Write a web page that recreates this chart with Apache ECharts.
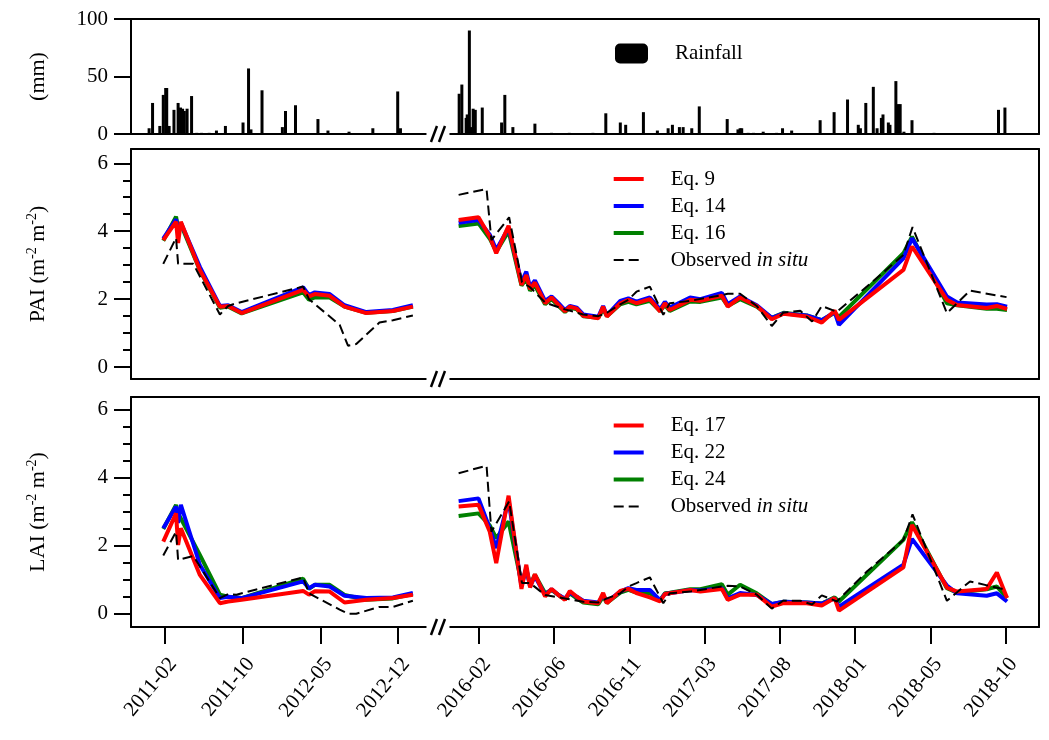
<!DOCTYPE html>
<html><head><meta charset="utf-8">
<script src="https://cdn.jsdelivr.net/npm/echarts@6/dist/echarts.min.js"></script>
<style>html,body{margin:0;padding:0;background:#fff}#c{width:1049px;height:740px}</style>
</head><body><div id="c"></div>
<script>
// ---------------- DATA ----------------
const TICK_LABELS = ['2011-02','2011-10','2012-05','2012-12','2016-02','2016-06','2016-11','2017-03','2017-08','2018-01','2018-05','2018-10'];
const TICK_DATES  = ['2011-02-20','2011-10-03','2012-05-15','2012-12-26','2016-02-01','2016-06-20','2016-11-07','2017-03-27','2017-08-14','2018-01-01','2018-05-21','2018-10-08'];

const RAIN_DATES = ['2011-01-05','2011-01-15','2011-02-05','2011-02-15','2011-02-22','2011-02-25','2011-03-04','2011-03-18','2011-03-30','2011-04-06','2011-04-12','2011-04-17','2011-04-25','2011-05-08','2011-05-23','2011-06-06','2011-06-28','2011-07-19','2011-08-14','2011-10-04','2011-10-20','2011-10-27','2011-11-28','2012-01-26','2012-02-04','2012-03-04','2012-05-08','2012-06-06','2012-08-06','2012-10-14','2012-12-25','2013-01-02',
 '2015-12-26','2015-12-31','2016-01-08','2016-01-10','2016-01-14','2016-01-18','2016-01-21','2016-01-25','2016-02-07','2016-03-14','2016-03-20','2016-04-04','2016-05-15','2016-06-15','2016-07-18','2016-08-31','2016-09-24','2016-10-21','2016-10-31','2016-12-03','2016-12-29','2017-01-18','2017-01-26','2017-02-08','2017-02-15','2017-03-03','2017-03-17','2017-05-08','2017-05-28','2017-06-01','2017-06-04','2017-06-16','2017-06-26','2017-07-14','2017-08-08','2017-08-19','2017-09-05','2017-10-28','2017-11-23','2017-12-18','2018-01-07','2018-01-11','2018-01-21','2018-02-04','2018-02-11','2018-02-19','2018-02-22','2018-03-04','2018-03-07','2018-03-18','2018-03-22','2018-03-26','2018-04-02','2018-04-17','2018-05-28','2018-09-25','2018-10-07'];
const RAIN_MM = [5,27,7,34,40,40,7,21,27,23,22,20,22,33,1,1,1,3,7,10,57,4,38,6,20,25,13,3,2,5,37,5,
 35,43,14,17,90,6,22,21,23,10,34,6,9,1,1,1,18,10,8,19,3,5,8,6,6,5,24,13,4,5,5,1,1,2,1,5,3,12,19,30,8,5,27,41,5,14,17,10,8,46,26,26,2,12,1,21,23];

// model estimate dates (period 1 and period 2)
const MODEL_DATES_1 = ['2011-02-15','2011-03-24','2011-03-30','2011-04-07','2011-06-01','2011-07-29','2011-08-22','2011-09-30','2012-03-26','2012-04-12','2012-04-29','2012-06-11','2012-07-24','2012-09-25','2012-12-11','2013-02-07'];
const MODEL_DATES_2 = ['2015-12-25','2016-01-31','2016-02-21','2016-03-04','2016-03-27','2016-04-20','2016-04-29','2016-05-06','2016-05-15','2016-06-03','2016-06-15','2016-06-28','2016-07-10','2016-07-19','2016-08-01','2016-08-13','2016-09-10','2016-09-19','2016-09-26','2016-10-21','2016-11-05','2016-11-20','2016-12-15','2017-01-03','2017-01-12','2017-01-21','2017-02-28','2017-03-19','2017-04-28','2017-05-09','2017-06-01','2017-07-02','2017-07-30','2017-08-21','2017-10-03','2017-10-31','2017-11-24','2017-12-02','2018-04-01','2018-04-17','2018-06-21','2018-07-10','2018-09-03','2018-09-22','2018-10-11'];
const OBS_DATES_1 = ['2011-02-15','2011-03-24','2011-03-30','2011-05-13','2011-07-29','2011-08-22','2011-09-15','2012-03-26','2012-04-12','2012-07-10','2012-08-03','2012-08-27','2012-11-02','2012-12-11','2013-02-07'];
const OBS_DATES_2 = ['2015-12-25','2016-02-15','2016-02-24','2016-03-28','2016-04-21','2016-05-06','2016-06-03','2016-07-10','2016-08-13','2016-09-10','2016-09-26','2016-10-21','2016-11-05','2016-11-20','2016-12-15','2017-01-09','2017-01-21','2017-02-28','2017-04-28','2017-05-09','2017-06-01','2017-07-02','2017-07-30','2017-08-20','2017-09-21','2017-10-13','2017-10-31','2017-11-28','2018-01-23','2018-04-01','2018-04-18','2018-06-21','2018-08-03','2018-10-10'];

// PAI
const PAI_EQ9_1  = [3.74,4.28,3.65,4.28,2.86,1.78,1.8,1.59,2.27,2.08,2.15,2.1,1.78,1.59,1.65,1.78];
const PAI_EQ14_1 = [3.78,4.35,4.0,4.25,2.95,1.8,1.82,1.62,2.35,2.12,2.2,2.15,1.82,1.62,1.68,1.82];
const PAI_EQ16_1 = [3.72,4.43,4.1,4.2,2.85,1.75,1.78,1.58,2.2,1.98,2.05,2.05,1.78,1.6,1.65,1.78];
const PAI_EQ9_2  = [4.33,4.41,3.84,3.35,4.16,2.42,2.71,2.29,2.49,1.88,2.05,1.83,1.64,1.78,1.72,1.51,1.44,1.78,1.49,1.88,1.98,1.88,2.0,1.64,1.88,1.68,1.98,1.95,2.1,1.78,2.05,1.8,1.41,1.57,1.49,1.31,1.66,1.39,2.86,3.55,1.98,1.83,1.74,1.8,1.71];
const PAI_EQ14_2 = [4.25,4.33,3.9,3.45,4.1,2.5,2.81,2.35,2.55,1.95,2.08,1.88,1.68,1.8,1.75,1.55,1.48,1.8,1.52,1.95,2.02,1.93,2.05,1.7,1.92,1.75,2.05,2.0,2.18,1.85,2.08,1.82,1.45,1.58,1.52,1.38,1.62,1.24,3.2,3.79,2.08,1.9,1.84,1.85,1.78];
const PAI_EQ16_2 = [4.15,4.23,3.78,3.4,4.0,2.4,2.6,2.25,2.4,1.85,2.0,1.8,1.62,1.75,1.7,1.5,1.45,1.7,1.5,1.85,1.92,1.85,1.95,1.65,1.82,1.65,1.93,1.92,2.05,1.8,2.0,1.78,1.45,1.6,1.52,1.38,1.6,1.48,3.35,3.84,1.88,1.82,1.72,1.72,1.68];
const PAI_OBS_1 = [3.04,3.8,3.04,3.04,1.55,1.8,1.88,2.37,2.0,1.24,0.63,0.68,1.31,1.38,1.52];
const PAI_OBS_2 = [5.07,5.24,3.74,4.41,2.5,2.35,1.9,1.7,1.55,1.5,1.6,1.85,1.98,2.22,2.37,1.54,1.88,1.95,2.12,2.16,2.16,1.8,1.21,1.6,1.66,1.34,1.8,1.63,2.37,3.3,4.12,1.59,2.25,2.06];

// LAI
const LAI_EQ17_1 = [2.12,2.95,2.02,2.51,1.14,0.31,0.36,0.41,0.67,0.56,0.66,0.65,0.33,0.41,0.46,0.56];
const LAI_EQ22_1 = [2.51,3.15,2.67,3.2,1.44,0.46,0.5,0.46,0.95,0.75,0.85,0.8,0.53,0.46,0.48,0.61];
const LAI_EQ24_1 = [2.49,3.2,2.95,2.8,1.73,0.56,0.5,0.46,1.03,0.73,0.85,0.85,0.55,0.41,0.45,0.58];
const LAI_EQ17_2 = [3.15,3.2,2.41,1.49,3.47,0.73,1.44,0.77,1.16,0.51,0.73,0.55,0.41,0.67,0.5,0.36,0.31,0.61,0.31,0.67,0.73,0.61,0.48,0.36,0.58,0.6,0.7,0.65,0.73,0.41,0.56,0.56,0.21,0.31,0.31,0.24,0.46,0.09,1.36,2.61,0.77,0.65,0.73,1.21,0.46];
const LAI_EQ22_2 = [3.31,3.39,2.51,1.93,3.34,0.8,1.35,0.8,1.1,0.55,0.72,0.55,0.45,0.62,0.5,0.38,0.33,0.55,0.35,0.65,0.75,0.7,0.7,0.4,0.58,0.6,0.7,0.68,0.75,0.45,0.61,0.55,0.29,0.35,0.33,0.3,0.45,0.21,1.44,2.2,0.83,0.6,0.53,0.6,0.36];
const LAI_EQ24_2 = [2.87,2.95,2.6,2.22,2.71,0.9,1.3,0.85,1.15,0.6,0.7,0.55,0.42,0.6,0.45,0.33,0.28,0.5,0.32,0.62,0.7,0.62,0.6,0.4,0.6,0.62,0.72,0.72,0.87,0.56,0.85,0.6,0.28,0.35,0.33,0.3,0.48,0.36,2.17,2.69,0.75,0.62,0.72,0.8,0.46];
const LAI_OBS_1 = [1.71,2.41,1.58,1.7,0.46,0.58,0.56,1.07,0.6,0.12,0.0,0.0,0.2,0.2,0.38];
const LAI_OBS_2 = [4.13,4.35,2.41,3.3,0.9,0.9,0.55,0.45,0.35,0.33,0.45,0.6,0.8,0.9,1.07,0.31,0.6,0.65,0.8,0.82,0.8,0.56,0.15,0.38,0.38,0.27,0.54,0.36,1.24,2.17,2.92,0.38,0.95,0.7];

// ---------------- BROKEN TIME SCALE (layout) ----------------
const SEG_LAYOUT = [
  {start:'2011-02-20', daysPerTick:225, unitsPerTick:1.033, origin:0},
  {start:'2016-02-01', daysPerTick:140, unitsPerTick:1.0, origin:4.176}
];
const SPLIT_DATE = '2014-01-01';
const X_MIN = -0.452, X_MAX = 11.622, BREAK_POS = 3.63;
const ms = s => Date.parse(s + 'T00:00:00Z');
function toPos(s){
  const seg = ms(s) < ms(SPLIT_DATE) ? SEG_LAYOUT[0] : SEG_LAYOUT[1];
  return seg.origin + (ms(s) - ms(seg.start)) / (seg.daysPerTick * 864e5) * seg.unitsPerTick;
}
const TICK_POS = TICK_DATES.map(toPos);
function pairs(d1, v1, d2, v2){
  return d1.map((d,i)=>[toPos(d), v1[i]]).concat([[BREAK_POS,'-']], d2.map((d,i)=>[toPos(d), v2[i]]));
}

const F = 'Liberation Serif';
const FS = 21;
const BLACK = '#000';

const chart = echarts.init(document.getElementById('c'), null, {renderer:'canvas'});

const grids = [
  {left:131, right:10, top:19, height:115},
  {left:131, right:10, top:149, height:230},
  {left:131, right:10, top:397, height:230}
];
const YR = [[0,100],[-0.35,6.42],[-0.39,6.37]];

const lineAx = {show:true, onZero:false, lineStyle:{color:BLACK, width:2}};
const xAxes = [];
for (let g=0; g<3; g++){
  xAxes.push({
    type:'value', gridIndex:g, min:X_MIN, max:X_MAX, axisLine:lineAx, splitLine:{show:false},
    axisTick: g===2 ? {show:true, inside:false, length:17, customValues:TICK_POS, lineStyle:{color:BLACK,width:2}} : {show:false},
    axisLabel: g===2 ? {show:true, customValues:TICK_POS, rotate:50, margin:27, verticalAlign:'top', fontFamily:F, fontSize:FS, color:BLACK,
      formatter: v => { const i = TICK_POS.findIndex(p => Math.abs(p - v) < 1e-6); return i >= 0 ? TICK_LABELS[i] : ''; }} : {show:false}
  });
}
for (let g=0; g<3; g++){
  xAxes.push({type:'value', gridIndex:g, position:'top', min:X_MIN, max:X_MAX, axisLine:lineAx,
    axisTick:{show:false}, axisLabel:{show:false}, splitLine:{show:false}});
}

const nameRich = {
  a:{fontFamily:F, fontSize:22, color:BLACK, lineHeight:26},
  s:{fontFamily:F, fontSize:14, color:BLACK, lineHeight:14, verticalAlign:'top'}
};
function mainY(g, name, majors){
  return {type:'value', gridIndex:g, position:'left', min:YR[g][0], max:YR[g][1], axisLine:lineAx, splitLine:{show:false},
    axisTick:{show:true, inside:false, length:17, customValues:majors, lineStyle:{color:BLACK,width:2}},
    axisLabel:{show:true, customValues:majors, margin:23, fontFamily:F, fontSize:FS, color:BLACK},
    name:name, nameLocation:'middle', nameGap:80, nameRotate:90,
    nameTextStyle:{fontFamily:F, fontSize:22, color:BLACK, rich:nameRich}};
}
function rightY(g){
  return {type:'value', gridIndex:g, position:'right', min:YR[g][0], max:YR[g][1], axisLine:lineAx,
    axisTick:{show:false}, axisLabel:{show:false}, splitLine:{show:false}};
}
function minorY(g, vals){
  return {type:'value', gridIndex:g, position:'left', min:YR[g][0], max:YR[g][1], axisLine:{show:false, onZero:false},
    axisTick:{show:true, inside:false, length:8, customValues:vals, lineStyle:{color:BLACK,width:2}},
    axisLabel:{show:false}, splitLine:{show:false}};
}
const MINOR = [0.5,1,1.5,2.5,3,3.5,4.5,5,5.5];
const yAxes = [
  mainY(0, '{a|(mm)}', [0,50,100]), rightY(0),
  mainY(1, '{a|PAI (m}{s|-2}{a| m}{s|-2}{a|)}', [0,2,4,6]), rightY(1), minorY(1, MINOR),
  mainY(2, '{a|LAI (m}{s|-2}{a| m}{s|-2}{a|)}', [0,2,4,6]), rightY(2), minorY(2, MINOR)
];

function lineSeries(name, color, xi, yi, data, dashed){
  return {type:'line', name:name, xAxisIndex:xi, yAxisIndex:yi, data:data, symbol:'none', connectNulls:false,
    lineStyle: dashed ? {color:BLACK, width:2, type:[10,5]} : {color:color, width:4},
    itemStyle:{color: dashed ? BLACK : color}, z: dashed ? 5 : 3, animation:false};
}
const RED='#ff0000', BLUE='#0000ff', GREEN='#008000';

const series = [
  {type:'bar', name:'Rainfall', xAxisIndex:0, yAxisIndex:0, barWidth:3,
   data: RAIN_DATES.map((d,i)=>[toPos(d), RAIN_MM[i]]), itemStyle:{color:BLACK}},
  lineSeries('Eq. 16', GREEN, 1, 2, pairs(MODEL_DATES_1, PAI_EQ16_1, MODEL_DATES_2, PAI_EQ16_2)),
  lineSeries('Eq. 14', BLUE, 1, 2, pairs(MODEL_DATES_1, PAI_EQ14_1, MODEL_DATES_2, PAI_EQ14_2)),
  lineSeries('Eq. 9', RED, 1, 2, pairs(MODEL_DATES_1, PAI_EQ9_1, MODEL_DATES_2, PAI_EQ9_2)),
  lineSeries('Observed in situ', BLACK, 1, 2, pairs(OBS_DATES_1, PAI_OBS_1, OBS_DATES_2, PAI_OBS_2), true),
  lineSeries('Eq. 24', GREEN, 2, 5, pairs(MODEL_DATES_1, LAI_EQ24_1, MODEL_DATES_2, LAI_EQ24_2)),
  lineSeries('Eq. 22', BLUE, 2, 5, pairs(MODEL_DATES_1, LAI_EQ22_1, MODEL_DATES_2, LAI_EQ22_2)),
  lineSeries('Eq. 17', RED, 2, 5, pairs(MODEL_DATES_1, LAI_EQ17_1, MODEL_DATES_2, LAI_EQ17_2)),
  lineSeries('Observed in situ', BLACK, 2, 5, pairs(OBS_DATES_1, LAI_OBS_1, OBS_DATES_2, LAI_OBS_2), true)
];

const legText = {fontFamily:F, fontSize:FS, color:BLACK, lineHeight:22, padding:[0,0,0,22],
  rich:{r:{fontFamily:F, fontSize:FS, color:BLACK}, i:{fontFamily:F, fontSize:FS, color:BLACK, fontStyle:'italic'}}};
const legFmt = n => n === 'Observed in situ' ? '{r|Observed }{i|in situ}' : n;
const noSymbol = {color:'rgba(0,0,0,0)', borderColor:'rgba(0,0,0,0)', borderWidth:0, opacity:0};
const legItem = (name, color, dashed) => ({name:name,
  lineStyle: dashed ? {color:BLACK, width:2, type:[10,5]} : {color:color, width:4, type:'solid'}});

chart.setOption({
  animation:false,
  backgroundColor:'#fff',
  textStyle:{fontFamily:F},
  grid:grids,
  xAxis:xAxes,
  yAxis:yAxes,
  legend:[
    {data:['Rainfall'], left:615, top:43, padding:0, itemWidth:33, itemHeight:20, icon:'roundRect',
     textStyle:{fontFamily:F, fontSize:FS, color:BLACK, padding:[0,0,0,22]}, selectedMode:false},
    {data:[legItem('Eq. 9',RED),legItem('Eq. 14',BLUE),legItem('Eq. 16',GREEN),legItem('Observed in situ',BLACK,true)],
     orient:'vertical', left:611.7, top:168, padding:0,
     itemWidth:30, itemHeight:14, itemGap:5, itemStyle:noSymbol, textStyle:legText, formatter:legFmt, selectedMode:false},
    {data:[legItem('Eq. 17',RED),legItem('Eq. 22',BLUE),legItem('Eq. 24',GREEN),legItem('Observed in situ',BLACK,true)],
     orient:'vertical', left:611.7, top:414.5, padding:0,
     itemWidth:30, itemHeight:14, itemGap:5, itemStyle:noSymbol, textStyle:legText, formatter:legFmt, selectedMode:false}
  ],
  series:series
});

// axis-break marks at the bottom edge of each panel, placed through the axis scales
const bx = chart.convertToPixel({xAxisIndex:0}, BREAK_POS);
const g = [];
[[0,0],[2,1],[5,2]].forEach(([yi, gi]) => {
  const by = chart.convertToPixel({yAxisIndex:yi}, YR[gi][0]);
  g.push({type:'rect', z:100, shape:{x:bx-11.5, y:by-3, width:23, height:6}, style:{fill:'#fff'}});
  g.push({type:'line', z:101, shape:{x1:bx-7, y1:by+8, x2:bx-1, y2:by-8}, style:{stroke:BLACK, lineWidth:2.5}});
  g.push({type:'line', z:101, shape:{x1:bx+1, y1:by+8, x2:bx+7, y2:by-8}, style:{stroke:BLACK, lineWidth:2.5}});
});
chart.setOption({graphic:g});
</script></body></html>
